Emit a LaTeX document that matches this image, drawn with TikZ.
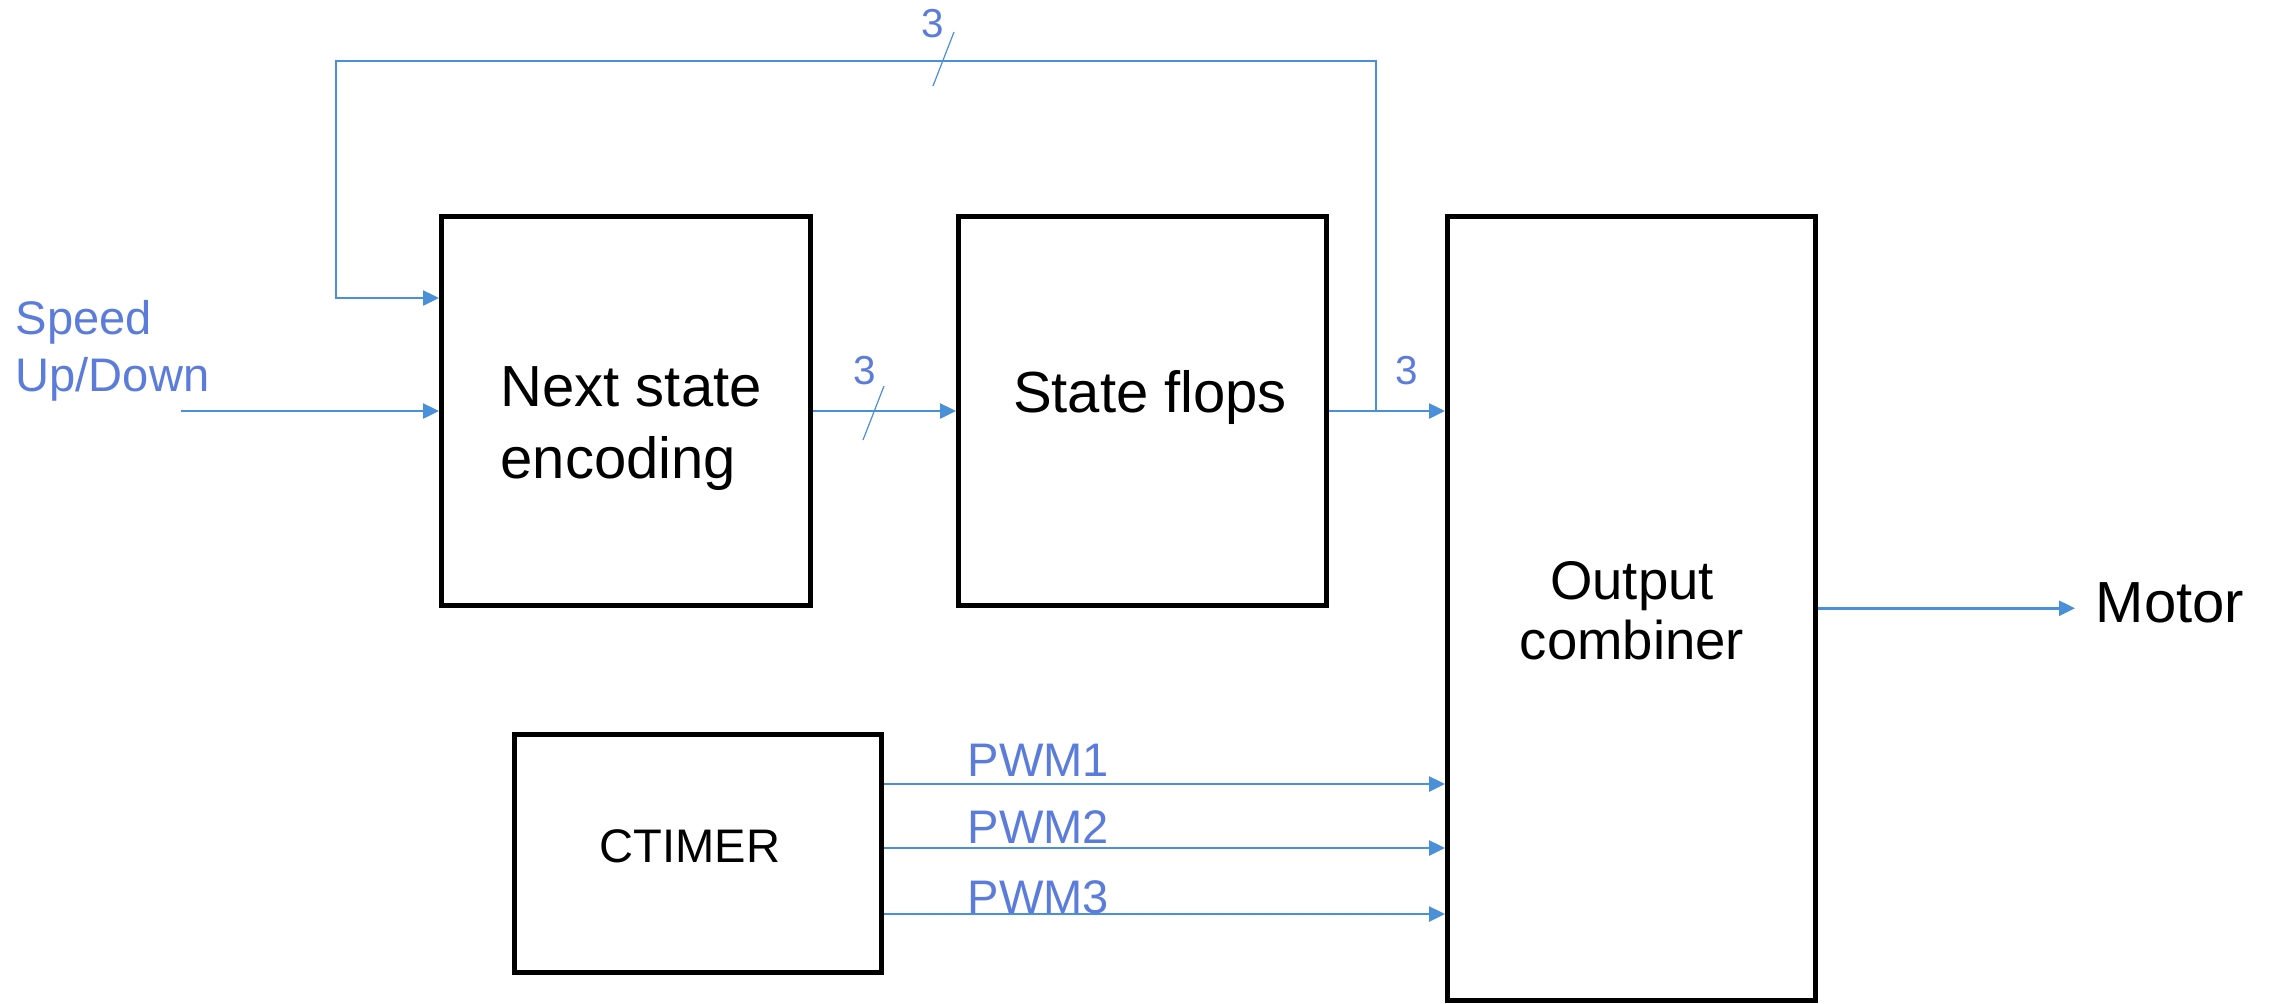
\documentclass[tikz,border=0pt]{standalone}
\usepackage{fontspec}
\setmainfont{Liberation Sans}
\usetikzlibrary{arrows.meta}
\definecolor{wireblue}{RGB}{74,144,217}
\definecolor{labelblue}{RGB}{91,124,219}
\begin{document}
\begin{tikzpicture}[x=0.1mm,y=-0.1mm,
  block/.style={draw=black, line width=0.5mm, rectangle, inner sep=0pt, line join=miter},
  wire/.style={draw=wireblue, line width=0.25mm, -{Triangle[length=1.6mm,width=1.5mm]}},
  buswidth/.style={draw=wireblue, line width=0.12mm},
  bigtxt/.style={inner sep=0pt, font=\fontsize{16.5}{20.5}\selectfont},
  combtxt/.style={inner sep=0pt, font=\fontsize{15.5}{17.1}\selectfont},
  midtxt/.style={inner sep=0pt, font=\fontsize{13.4}{16}\selectfont},
  sigtxt/.style={inner sep=0pt, text=labelblue, font=\fontsize{13.4}{16.2}\selectfont},
  numtxt/.style={inner sep=0pt, text=labelblue, font=\fontsize{11.5}{13}\selectfont}
]
\useasboundingbox (0,0) rectangle (2272,1003);

% blocks
\node[block, minimum width=36.9mm, minimum height=38.9mm] (nse) at (626,411) {};
\node[block, minimum width=36.8mm, minimum height=38.9mm] (sf) at (1142.5,411) {};
\node[block, minimum width=36.8mm, minimum height=78.35mm] (oc) at (1631.5,608.25) {};
\node[block, minimum width=36.7mm, minimum height=23.8mm] (ct) at (698,853.5) {};

% block captions
\node[bigtxt, align=left, anchor=west] (nseTxt) at (500,429) {Next state\\encoding};
\node[bigtxt, anchor=base] (sfTxt) at (1150,412) {State flops};
\node[combtxt, align=center] (ocTxt) at (1632,611) {Output\\combiner};
\node[midtxt, anchor=base] (ctTxt) at (690,862) {CTIMER};

% input and output labels
\node[sigtxt, align=left, anchor=west] (speedTxt) at (15,350.5) {Speed\\Up/Down};
\node[bigtxt, anchor=base west] (motorTxt) at (2095,622) {Motor};

% free ends and bends
\coordinate (spdIn) at (181,411);
\coordinate (jn) at (1376,411);
\coordinate (fbR) at (1376,61);
\coordinate (fbL) at (336,61);
\coordinate (fbIn) at (336,298);
\coordinate (motorEnd) at (2075,608.25);
\coordinate (pwmA) at (0,784);
\coordinate (pwmB) at (0,848);
\coordinate (pwmC) at (0,914);

% connectors
\draw[wire] (spdIn) -- (nse.west);
\draw[wire] (nse.east) -- (sf.west);
\draw[wire] (sf.east) -- (sf.east -| oc.west);
\draw[wire] (jn) -- (fbR) -- (fbL) -- (fbIn) -- (fbIn -| nse.west);
\draw[wire] (oc.east) -- (motorEnd);
\draw[wire] (ct.east |- pwmA) -- (oc.west |- pwmA);
\draw[wire] (ct.east |- pwmB) -- (oc.west |- pwmB);
\draw[wire] (ct.east |- pwmC) -- (oc.west |- pwmC);

% bus width marks
\draw[buswidth] (954,32) -- (933,86);
\draw[buswidth] (884,386) -- (863,440);
\node[numtxt, anchor=base] (w1) at (933,37) {3};
\node[numtxt, anchor=base] (w2) at (865,384) {3};
\node[numtxt, anchor=base] (w3) at (1407,384) {3};

% PWM signal names
\node[sigtxt, anchor=base west] (pwm1Txt) at (967,776) {PWM1};
\node[sigtxt, anchor=base west] (pwm2Txt) at (967,843) {PWM2};
\node[sigtxt, anchor=base west] (pwm3Txt) at (967,913) {PWM3};
\end{tikzpicture}
\end{document}
